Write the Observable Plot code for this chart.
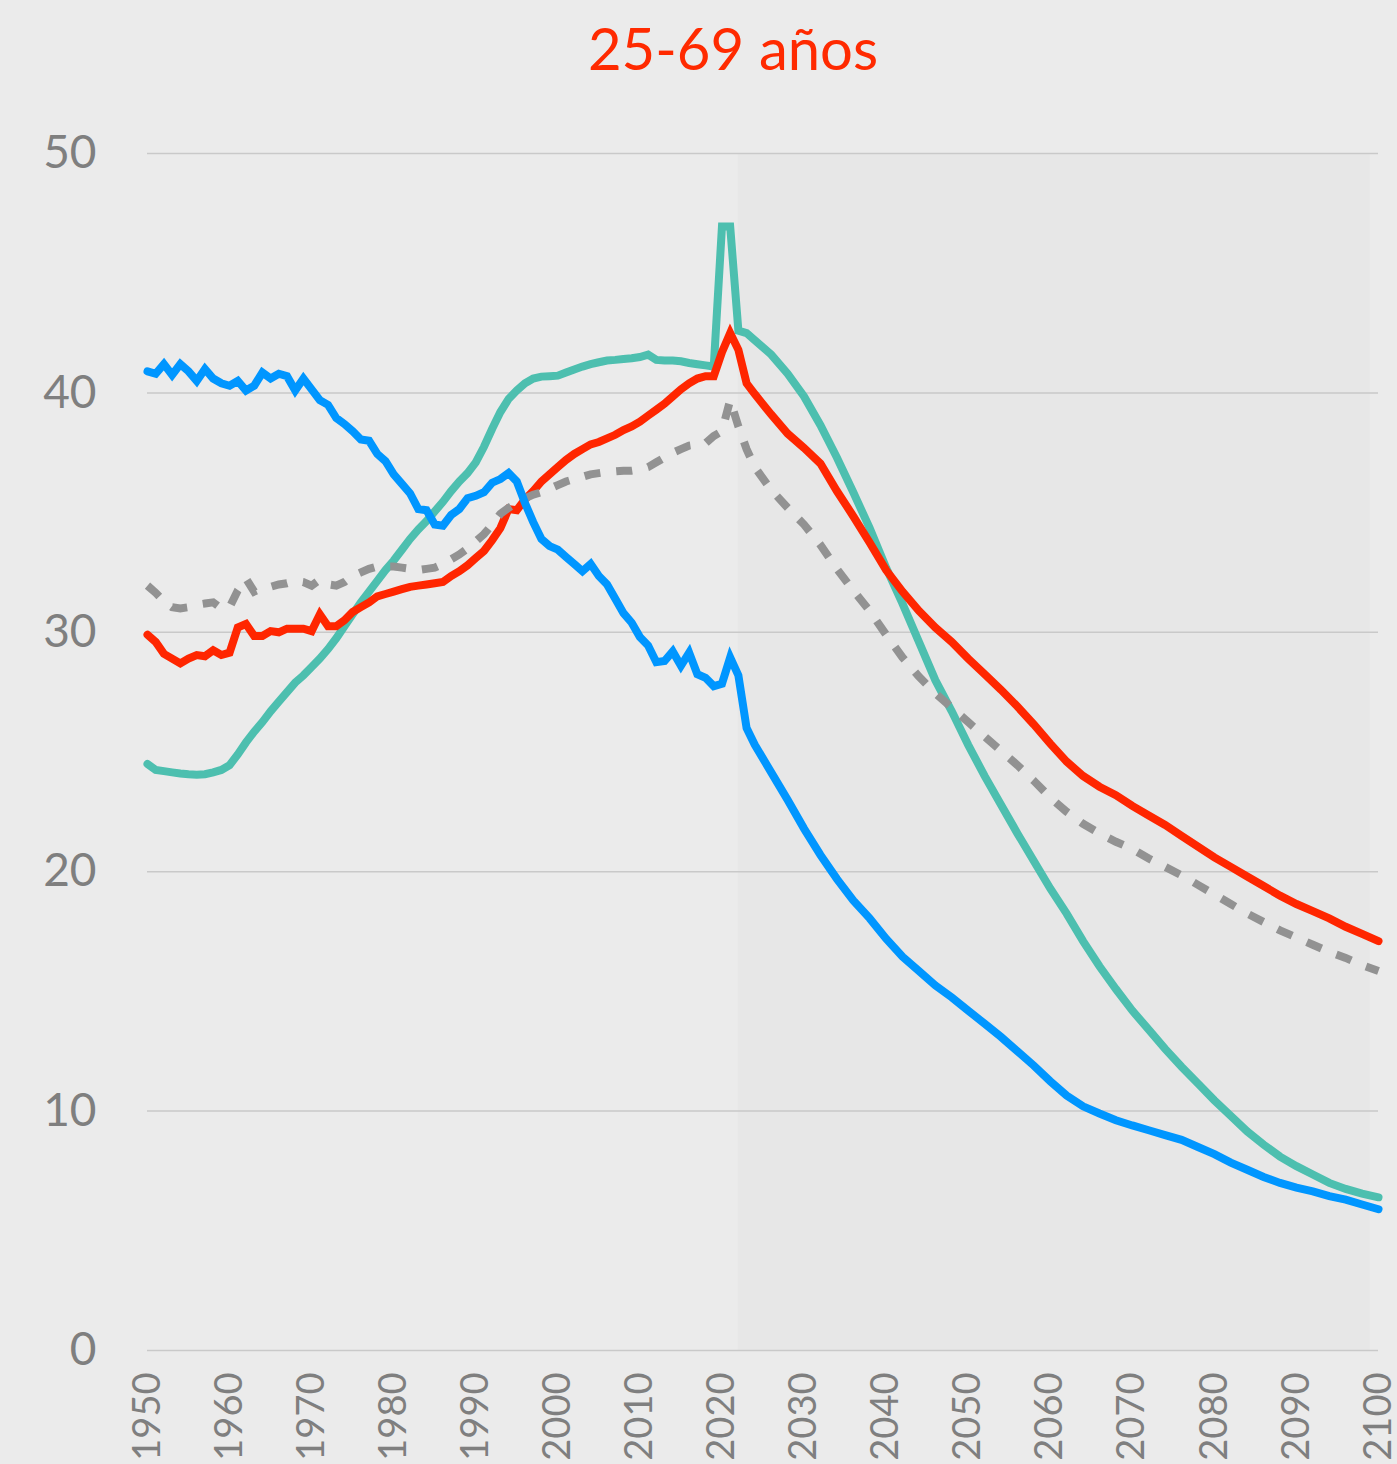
<!DOCTYPE html>
<html><head><meta charset="utf-8">
<script src="https://cdn.jsdelivr.net/npm/d3@7"></script>
<script src="https://cdn.jsdelivr.net/npm/@observablehq/plot@0.6"></script>
<style>
html,body{margin:0;padding:0;background:#ebebeb;}
#title{height:100px;box-sizing:border-box;padding-top:19px;font-family:Lato,sans-serif;font-size:58px;line-height:58px;color:#ff2a00;position:relative;}
#title span{position:absolute;left:733px;transform:translateX(-50%);white-space:nowrap;}
#chart svg{display:block;}
</style></head><body>
<div id="title"><span>25-69 años</span></div>
<div id="chart"></div>
<script>
const titleText = "25-69 años";
const histYears = d3.range(1950, 2022);
const projYears = [2022, 2023, 2024, 2026, 2028, 2030, 2032, 2034, 2036, 2038, 2040, 2042, 2044, 2046, 2048, 2050, 2052, 2054, 2056, 2058, 2060, 2062, 2064, 2066, 2068, 2070, 2072, 2074, 2076, 2078, 2080, 2082, 2084, 2086, 2088, 2090, 2092, 2094, 2096, 2098, 2100];
const xTicks = [1950, 1960, 1970, 1980, 1990, 2000, 2010, 2020, 2030, 2040, 2050, 2060, 2070, 2080, 2090, 2100];
const yTicks = [0, 10, 20, 30, 40, 50];
const projectionSpan = [{start: 2022, end: 2099, low: 0, high: 50}];

// blue series
const azulHist = [
  40.9, 40.8, 41.2, 40.75, 41.2, 40.9, 40.5, 41.0, 40.6, 40.4,
  40.3, 40.5, 40.1, 40.3, 40.85, 40.6, 40.8, 40.7, 40.1, 40.6,
  40.15, 39.7, 39.5, 38.95, 38.7, 38.4, 38.05, 38.0, 37.45, 37.15,
  36.6, 36.2, 35.8, 35.15, 35.1, 34.5, 34.45, 34.9, 35.15, 35.6,
  35.7, 35.85, 36.25, 36.4, 36.65, 36.3, 35.4, 34.6, 33.9, 33.6,
  33.45, 33.15, 32.85, 32.55, 32.85, 32.35, 32.0, 31.4, 30.8, 30.4,
  29.8, 29.45, 28.75, 28.8, 29.2, 28.6, 29.15, 28.25, 28.1, 27.75,
  27.85, 28.95];
const azulProj = [28.2, 26.0, 25.3, 24.15, 23.0, 21.8, 20.7, 19.7, 18.8, 18.05, 17.2, 16.45, 15.85, 15.25, 14.75, 14.2, 13.65, 13.1, 12.5, 11.9, 11.25, 10.65, 10.2, 9.9, 9.62, 9.4, 9.2, 9.0, 8.8, 8.5, 8.2, 7.85, 7.55, 7.25, 7.0, 6.8, 6.65, 6.45, 6.3, 6.1, 5.9];

// teal series
const verdeHist = [
  24.5, 24.25, 24.2, 24.15, 24.1, 24.07, 24.05, 24.07, 24.15, 24.25,
  24.45, 24.9, 25.4, 25.85, 26.25, 26.7, 27.1, 27.5, 27.9, 28.2,
  28.55, 28.9, 29.3, 29.75, 30.25, 30.75, 31.25, 31.7, 32.15, 32.6,
  33.0, 33.45, 33.9, 34.3, 34.65, 35.05, 35.45, 35.9, 36.3, 36.65,
  37.1, 37.75, 38.5, 39.2, 39.75, 40.1, 40.4, 40.6, 40.68, 40.7,
  40.72, 40.85, 40.98, 41.1, 41.2, 41.28, 41.35, 41.38, 41.42, 41.45,
  41.5, 41.6, 41.38, 41.35, 41.35, 41.32, 41.25, 41.2, 41.15, 41.1,
  46.95, 46.95];
const verdeProj = [42.6, 42.5, 42.2, 41.6, 40.8, 39.85, 38.65, 37.3, 35.85, 34.35, 32.7, 31.2, 29.6, 28.0, 26.7, 25.3, 24.0, 22.8, 21.6, 20.45, 19.3, 18.25, 17.1, 16.05, 15.1, 14.2, 13.4, 12.6, 11.85, 11.15, 10.45, 9.8, 9.15, 8.6, 8.1, 7.7, 7.35, 7.0, 6.75, 6.55, 6.4];

// red series
const rojoHist = [
  29.9, 29.6, 29.1, 28.9, 28.7, 28.9, 29.05, 29.0, 29.25, 29.05,
  29.15, 30.2, 30.35, 29.85, 29.85, 30.05, 30.0, 30.15, 30.15, 30.15,
  30.05, 30.75, 30.25, 30.25, 30.5, 30.85, 31.05, 31.25, 31.5, 31.6,
  31.7, 31.8, 31.9, 31.95, 32.0, 32.05, 32.1, 32.35, 32.55, 32.8,
  33.1, 33.4, 33.85, 34.35, 35.15, 35.1, 35.55, 35.9, 36.3, 36.6,
  36.9, 37.2, 37.45, 37.65, 37.85, 37.95, 38.1, 38.25, 38.45, 38.6,
  38.8, 39.05, 39.3, 39.55, 39.85, 40.15, 40.4, 40.6, 40.7, 40.7,
  41.7, 42.5];
const rojoProj = [41.8, 40.4, 39.95, 39.1, 38.3, 37.7, 37.05, 35.9, 34.85, 33.75, 32.6, 31.7, 30.9, 30.2, 29.6, 28.9, 28.25, 27.6, 26.9, 26.15, 25.35, 24.6, 24.0, 23.55, 23.2, 22.75, 22.35, 21.95, 21.5, 21.05, 20.6, 20.2, 19.8, 19.4, 19.0, 18.65, 18.35, 18.05, 17.7, 17.4, 17.1];

// grey dashed series
const grisHist = [
  31.95, 31.65, 31.3, 31.05, 31.0, 31.05, 31.15, 31.2, 31.25, 31.0,
  31.05, 31.75, 32.25, 31.7, 31.85, 31.9, 32.0, 32.05, 32.15, 32.1,
  31.95, 32.2, 32.0, 31.95, 32.1, 32.35, 32.5, 32.65, 32.75, 32.75,
  32.75, 32.7, 32.65, 32.6, 32.65, 32.7, 32.85, 33.05, 33.25, 33.5,
  33.8, 34.1, 34.5, 34.95, 35.2, 35.4, 35.6, 35.75, 35.85, 36.0,
  36.15, 36.3, 36.4, 36.5, 36.6, 36.65, 36.7, 36.72, 36.75, 36.75,
  36.8, 36.9, 37.1, 37.3, 37.5, 37.65, 37.8, 37.85, 37.9, 38.2,
  38.4, 39.7];
const grisProj = [38.6, 37.65, 36.9, 35.95, 35.2, 34.5, 33.65, 32.65, 31.75, 30.9, 29.9, 28.95, 28.15, 27.45, 26.85, 26.25, 25.65, 25.05, 24.45, 23.8, 23.1, 22.5, 22.0, 21.6, 21.25, 20.95, 20.55, 20.2, 19.85, 19.45, 19.05, 18.65, 18.25, 17.9, 17.55, 17.25, 16.95, 16.65, 16.4, 16.1, 15.85];

function rows(hist, proj) {
  return histYears.map((y, i) => ({year: y, value: hist[i]}))
    .concat(projYears.map((y, i) => ({year: y, value: proj[i]})));
}

const lineStyle = {x: "year", y: "value", strokeWidth: 8, strokeLinejoin: "miter", strokeMiterlimit: 4};

const chart = Plot.plot({
  width: 1397,
  height: 1364,
  marginTop: 53,
  marginBottom: 114,
  marginLeft: 147,
  marginRight: 19,
  style: {background: "transparent", fontFamily: "Lato, sans-serif", overflow: "visible"},
  x: {domain: [1950, 2100]},
  y: {domain: [0, 50]},
  marks: [
    Plot.rect(projectionSpan, {x1: "start", x2: "end", y1: "low", y2: "high", fill: "#e7e7e7"}),
    Plot.ruleY(yTicks, {stroke: "#c9c9c9", strokeWidth: 1.5}),
    Plot.axisY({ticks: yTicks, tickSize: 0, tickPadding: 51, fontSize: 46, color: "#7f7f7f", label: null}),
    Plot.axisX({ticks: xTicks, tickSize: 0, tickPadding: 22, tickRotate: -90, fontSize: 38, color: "#7f7f7f", label: null, tickFormat: d => String(d)}),
    Plot.line(rows(verdeHist, verdeProj), {...lineStyle, stroke: "#4dbfaf"}),
    Plot.line(rows(rojoHist, rojoProj), {...lineStyle, stroke: "#ff2600"}),
    Plot.line(rows(grisHist, grisProj), {...lineStyle, stroke: "#929292", strokeDasharray: "16,16", strokeLinecap: "butt"}),
    Plot.line(rows(azulHist, azulProj), {...lineStyle, stroke: "#0096ff"})
  ]
});
document.getElementById("chart").appendChild(chart);
</script>
</body></html>
